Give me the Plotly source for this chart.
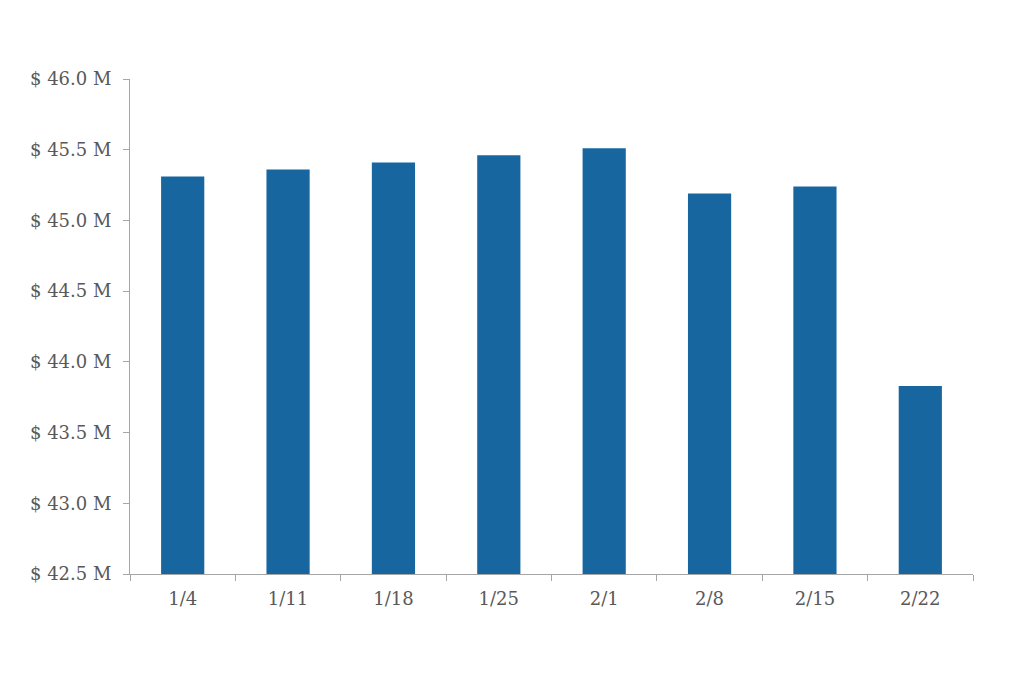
import plotly.graph_objects as go

categories = ["1/4", "1/11", "1/18", "1/25", "2/1", "2/8", "2/15", "2/22"]
values = [45.31, 45.36, 45.41, 45.46, 45.51, 45.19, 45.24, 43.83]
tick_vals = [42.5, 43.0, 43.5, 44.0, 44.5, 45.0, 45.5, 46.0]
tick_text = ["$ 42.5 M", "$ 43.0 M", "$ 43.5 M", "$ 44.0 M", "$ 44.5 M", "$ 45.0 M", "$ 45.5 M", "$ 46.0 M"]

fig = go.Figure(go.Bar(x=categories, y=values, marker_color="#1866A0", marker_line_width=0))

fig.update_layout(
    width=1024, height=686,
    margin=dict(l=122, r=59, t=71, b=120, autoexpand=False),
    paper_bgcolor="white", plot_bgcolor="white",
    bargap=0.59,
    showlegend=False,
    font=dict(family="DejaVu Serif, Liberation Serif, serif", size=18, color="#595959"),
)
fig.update_xaxes(
    showline=True, linecolor="#A6A6A6", linewidth=1,
    ticks="outside", tickson="boundaries", ticklen=6, tickcolor="#A6A6A6",
    showgrid=False, ticklabelstandoff=8, automargin=False,
)
fig.update_yaxes(
    range=[42.5, 46.0], tickvals=tick_vals, ticktext=tick_text,
    showline=True, linecolor="#A6A6A6", linewidth=1,
    ticks="outside", ticklen=6, tickcolor="#A6A6A6",
    showgrid=False, zeroline=False, ticklabelstandoff=8, automargin=False,
)

fig.write_html("out.html")
